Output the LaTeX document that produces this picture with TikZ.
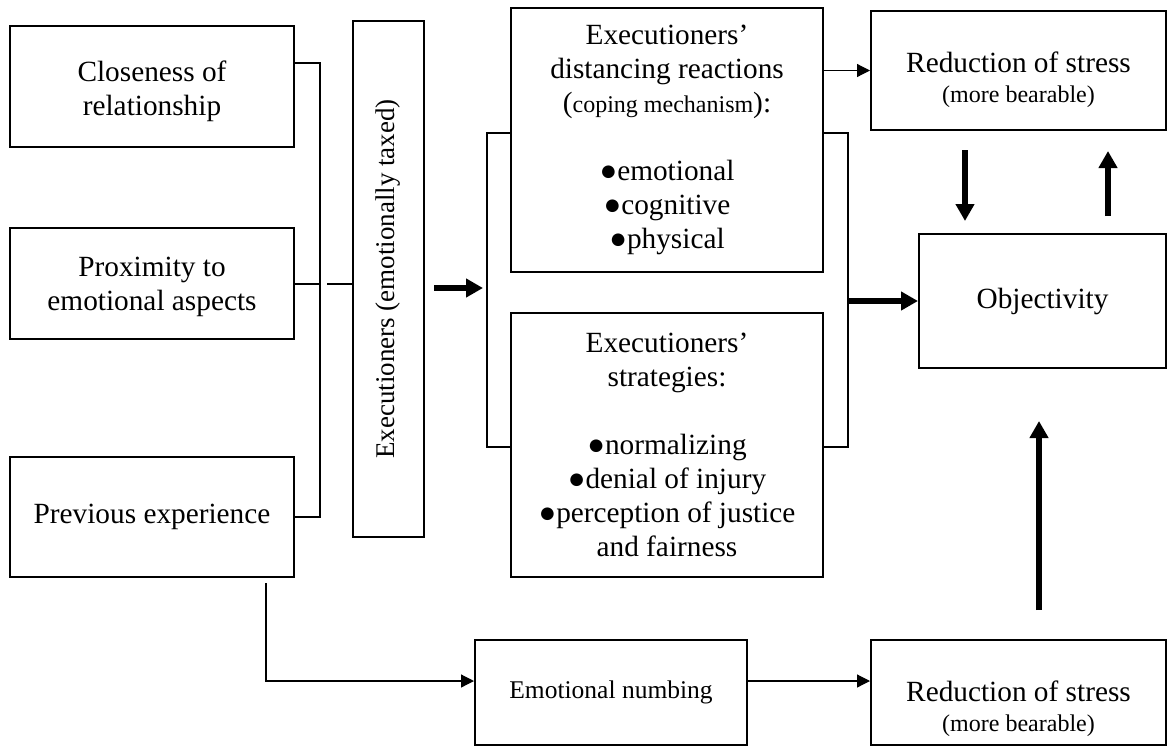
\documentclass[tikz,border=0pt]{standalone}
\usepackage{fontspec}
\setmainfont{Liberation Serif}
\usetikzlibrary{arrows.meta}

\newcommand{\bearsize}{\fontsize{24}{28}\selectfont}

\tikzset{
box/.style={draw, line width=2pt, align=center, inner sep=0pt,
    font=\fontsize{29.3}{34}\selectfont},
thin arrow/.style={-{Triangle[length=13pt,width=13pt]}, line width=1.2pt},
thick arrow/.style={-{Triangle[length=17pt,width=18pt]}, line width=5.5pt},
joint/.style={line width=2pt}}
\tikzset{every picture/.style={line width=0.75pt}}

\begin{document}
\begin{tikzpicture}[x=1pt,y=1pt,yscale=-1,xscale=1]

    \useasboundingbox (0,0) rectangle (1175,755);

    % left column
    \node[box, minimum width=284pt, minimum height=121pt] (close) at (152,86.5)
        {\rule{0pt}{30pt}Closeness of\\relationship};
    \node[box, minimum width=284pt, minimum height=111pt] (prox) at (152,283.5)
        {\rule{0pt}{26pt}Proximity to\\emotional aspects};
    \node[box, minimum width=284pt, minimum height=120pt] (prev) at (152,517)
        {Previous experience};

    \node[box, minimum width=71pt, minimum height=516pt,
        font=\fontsize{27}{32}\selectfont] (exec) at (388.5,279)
        {\rotatebox{90}{Executioners (emotionally taxed)}};

    % middle column
    \node[box, minimum width=312pt, minimum height=264pt] (dist) at (667,140)
        {Executioners'\\distancing reactions\\({\bearsize coping mechanism}):\\[34pt]
         ●emotional\\●cognitive\\●physical};
    \node[box, minimum width=312pt, minimum height=264pt] (strat) at (667,445)
        {Executioners'\\strategies:\\[34pt]
         ●normalizing\\●denial of injury\\●perception of justice\\and fairness};

    % right column
    \node[box, minimum width=295pt, minimum height=119pt] (relief) at (1018.5,70.5)
        {\rule{0pt}{40pt}Reduction of stress\\[-4pt]{\bearsize (more bearable)}};
    \node[box, minimum width=247pt, minimum height=134pt] (object) at (1042.5,301)
        {Objectivity};

    % bottom row
    \node[box, minimum width=272pt, minimum height=105pt,
        font=\fontsize{25.5}{30}\selectfont] (numb) at (611,692.5)
        {Emotional numbing};
    \node[box, minimum width=295pt, minimum height=105pt] (relief2) at (1018.5,692.5)
        {\rule{0pt}{54pt}Reduction of stress\\[-4pt]{\bearsize (more bearable)}};

    % joints
    \coordinate (joinTop) at (320,63);
    \coordinate (joinBot) at (320,517);
    \coordinate (joinMid) at (327,284);
    \draw[joint] (close.east |- joinTop) -- (joinTop) -- (joinBot) -- (prev.east |- joinBot);
    \draw[joint] (prox.east |- joinMid) -- (joinTop |- joinMid);
    \draw[joint] (joinMid) -- (exec.west |- joinMid);

    \coordinate (brkLT) at (487,133);
    \coordinate (brkLB) at (487,447);
    \coordinate (brkRT) at (848,133);
    \coordinate (brkRB) at (848,447);
    \draw[joint] (dist.west |- brkLT) -- (brkLT) -- (brkLB) -- (strat.west |- brkLB);
    \draw[joint] (dist.east |- brkRT) -- (brkRT) -- (brkRB) -- (strat.east |- brkRB);

    % arrows
    \coordinate (inArr) at (434,288);
    \draw[thick arrow, shorten >=4pt] (inArr) -- (brkLT |- inArr);
    \draw[thick arrow] (object.west -| brkRT) -- (object.west);
    \draw[thin arrow] (dist.east |- relief.west) -- (relief.west);

    \coordinate (dnX) at (965,150);
    \coordinate (upX) at (1108,150);
    \coordinate (upB) at (1039,610);
    \draw[thick arrow, shorten >=12pt] (dnX) -- (dnX |- object.north);
    \draw[thick arrow, shorten >=20pt, shorten <=17pt] (upX |- object.north) -- (upX |- relief.south);
    \draw[thick arrow, shorten >=52pt] (upB) -- (upB |- object.south);

    \coordinate (branch) at (266,583);
    \draw[thin arrow] (branch) |- ([yshift=-11.5pt]numb.west);
    \draw[thin arrow] ([yshift=-11.5pt]numb.east) -- ([yshift=-11.5pt]relief2.west);

\end{tikzpicture}
\end{document}
